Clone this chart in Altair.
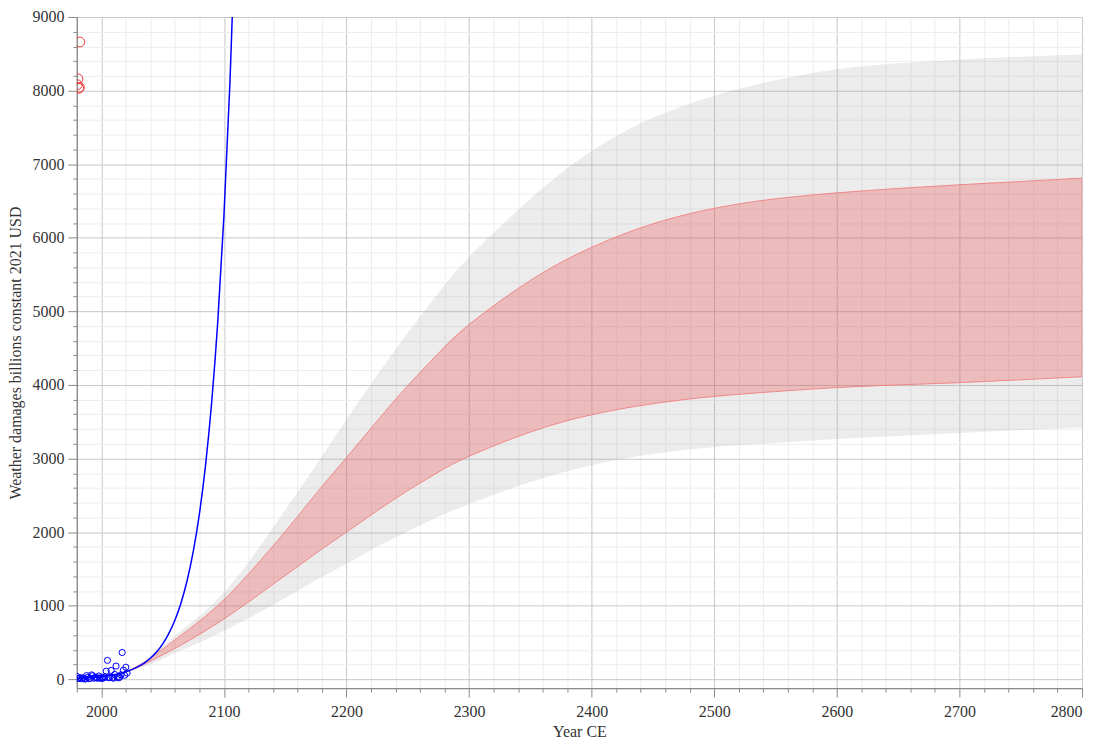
import altair as alt
import pandas as pd

# Observed annual weather damages (billions 2021 USD)
obs_years = list(range(1980, 2022))
obs_vals = [40, 10, 12, 22, 8, 18, 6, 4, 50, 28, 8, 14, 60, 48, 15, 26, 22, 15, 45, 20,
            12, 15, 20, 35, 110, 257, 20, 25, 120, 22, 15, 65, 180, 30, 20, 28, 60, 364,
            124, 55, 164, 85]

# Exponential trend (blue line)
fit_years = list(range(1980, 2111, 5))
fit_vals = [13, 17, 22, 28, 37, 47, 61, 79, 102, 132, 171, 221, 286, 370, 479, 620, 802,
            1038, 1343, 1737, 2247, 2907, 3760, 4865, 6294, 8143, 10534]

# Projection bands
band_years = [2020, 2030, 2040, 2060, 2080, 2100, 2120, 2140, 2160, 2180, 2200, 2225, 2250,
              2275, 2300, 2350, 2400, 2450, 2500, 2550, 2600, 2650, 2700, 2750, 2800]
gray_hi = [100, 195, 320, 590, 860, 1180, 1590, 2060, 2540, 3030, 3530, 4130, 4710, 5250,
           5740, 6530, 7180, 7630, 7930, 8140, 8290, 8370, 8420, 8460, 8490]
red_hi = [100, 185, 290, 535, 790, 1080, 1430, 1810, 2210, 2620, 3013, 3510, 3990, 4430,
          4820, 5420, 5870, 6190, 6400, 6530, 6610, 6670, 6720, 6765, 6810]
red_lo = [100, 165, 245, 420, 610, 820, 1050, 1290, 1530, 1770, 2000, 2290, 2565, 2815,
          3030, 3360, 3595, 3745, 3844, 3910, 3964, 4000, 4031, 4070, 4111]
gray_lo = [100, 150, 200, 355, 500, 660, 830, 1010, 1200, 1390, 1570, 1800, 2010, 2210,
           2380, 2680, 2910, 3060, 3156, 3210, 3265, 3305, 3347, 3385, 3422]

# Large red circles near the top-left
out_years = [1982.5, 1981.0, 1980.5, 1982.2, 1981.6]
out_vals = [8660, 8160, 8080, 8045, 8030]

x_major = list(range(2000, 2801, 100))
x_minor = [v for v in range(1980, 2801, 20) if v % 100 != 0]
y_major = list(range(0, 9001, 1000))
y_minor = [v for v in range(0, 9001, 200) if v % 1000 != 0]

obs_df = pd.DataFrame({"year": obs_years, "val": obs_vals})
fit_df = pd.DataFrame({"year": fit_years, "val": fit_vals})
band_df = pd.DataFrame({"year": band_years, "ghi": gray_hi, "glo": gray_lo,
                        "rhi": red_hi, "rlo": red_lo})
out_df = pd.DataFrame({"year": out_years, "val": out_vals})

FONT = "Liberation Serif"
AX = "#8a8a8a"

xs = alt.Scale(domain=[1980, 2800], nice=False, zero=False)
ys = alt.Scale(domain=[-120, 9000], nice=False, zero=False)

x_minor_axis = alt.Axis(orient="bottom", values=x_minor, grid=True, gridColor="#ededed",
                        labels=False, tickSize=4, tickColor=AX, domainColor=AX, title=None)
y_minor_axis = alt.Axis(orient="left", values=y_minor, grid=True, gridColor="#ededed",
                        labels=False, tickSize=4, tickColor=AX, domainColor=AX, title=None)
x_major_axis = alt.Axis(orient="bottom", values=x_major, grid=True, gridColor="#c8c8c8",
                        format="d", labelFont=FONT, labelFontSize=16, labelColor="#333333",
                        labelPadding=6, tickSize=9, tickColor=AX, domainColor=AX,
                        title="Year CE", titleFont=FONT, titleFontSize=16,
                        titleFontWeight="normal", titleColor="#333333", titlePadding=5)
y_major_axis = alt.Axis(orient="left", values=y_major, grid=True, gridColor="#c8c8c8",
                        format="d", labelFont=FONT, labelFontSize=16, labelColor="#333333",
                        labelPadding=4, tickSize=9, tickColor=AX, domainColor=AX,
                        title="Weather damages billions constant 2021 USD", titleFont=FONT,
                        titleFontSize=16, titleFontWeight="normal", titleColor="#333333",
                        titlePadding=8)

gray_band = alt.Chart(band_df).mark_area(color="#a0a0a0", opacity=0.2,
                                         interpolate="natural", clip=True).encode(
    x=alt.X("year:Q", scale=xs, axis=x_minor_axis),
    y=alt.Y("ghi:Q", scale=ys, axis=y_minor_axis),
    y2="glo:Q",
)

red_band = alt.Chart(band_df).mark_area(fill="#ec4c4f", fillOpacity=0.3, stroke="#f08080",
                                        strokeWidth=1, strokeOpacity=0.9,
                                        interpolate="natural", clip=True).encode(
    x=alt.X("year:Q", scale=xs, axis=x_major_axis),
    y=alt.Y("rhi:Q", scale=ys, axis=y_major_axis),
    y2="rlo:Q",
)

fit_line = alt.Chart(fit_df).mark_line(color="#0000ff", strokeWidth=1.5,
                                       interpolate="monotone", clip=True).encode(
    x=alt.X("year:Q", scale=xs, axis=None),
    y=alt.Y("val:Q", scale=ys, axis=None),
)

obs_pts = alt.Chart(obs_df).mark_point(shape="circle", color="#0000ff", filled=False,
                                       size=38, strokeWidth=1, opacity=1, clip=True).encode(
    x=alt.X("year:Q", scale=xs, axis=None),
    y=alt.Y("val:Q", scale=ys, axis=None),
)

out_pts = alt.Chart(out_df).mark_point(shape="circle", color="#ee3b3b", filled=False,
                                       size=95, strokeWidth=1, opacity=1, clip=True).encode(
    x=alt.X("year:Q", scale=xs, axis=None),
    y=alt.Y("val:Q", scale=ys, axis=None),
)

chart = alt.layer(gray_band, red_band, fit_line, obs_pts, out_pts).resolve_axis(
    x="independent", y="independent"
).properties(
    width=1008, height=673,
    autosize=alt.AutoSizeParams(type="none"),
    padding={"left": 69, "top": 8, "right": 10, "bottom": 50},
).configure_view(stroke="#8c8c8c", strokeWidth=1.5).configure_axis(
    labelFont=FONT, titleFont=FONT
).configure(background="white")

chart.save("out.html", embed_options={"renderer": "svg", "actions": False})
